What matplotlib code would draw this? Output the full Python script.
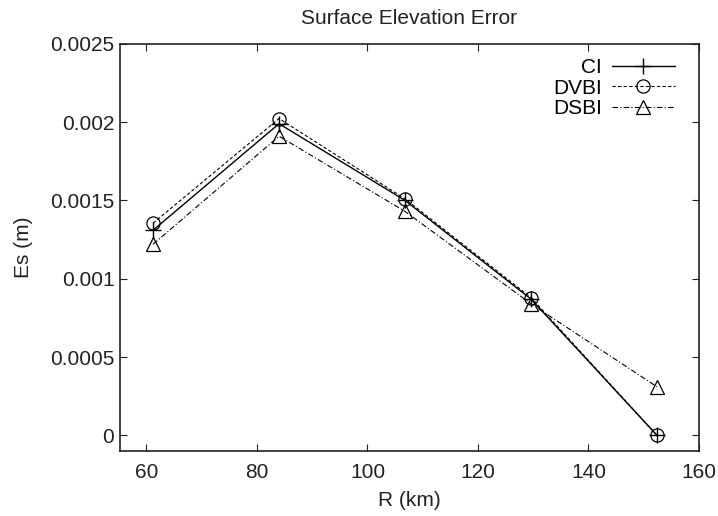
import numpy as np
import matplotlib
matplotlib.use("Agg")
import matplotlib.pyplot as plt

plt.rcParams["font.family"] = ["Liberation Sans", "DejaVu Sans"]

R = [61.2, 84.0, 106.8, 129.6, 152.4]
es_ci = [0.00131, 0.00199, 0.00150, 0.00087, 0.0]
es_dvbi = [0.001355, 0.002023, 0.00151, 0.00088, 0.0]
es_dsbi = [0.00122, 0.00191, 0.00143, 0.00084, 0.00031]
xticks = [60, 80, 100, 120, 140, 160]
yticks = [0, 0.0005, 0.001, 0.0015, 0.002, 0.0025]
ytick_labels = ["0", "0.0005", "0.001", "0.0015", "0.002", "0.0025"]


def make_graph():
    fig = plt.figure(figsize=(7.18, 5.16), dpi=100)
    ax = fig.add_axes([0.167, 0.126, 0.8065, 0.789])

    ax.plot(R, es_ci, color="black", lw=1.0, ls="-", marker="+", ms=11,
            mew=1.0, label="CI")
    ax.plot(R, es_dvbi, color="black", lw=0.8, ls=(0, (3, 2)), marker="o",
            ms=9.5, mfc="none", mew=0.9, label="DVBI")
    ax.plot(R, es_dsbi, color="black", lw=0.8, ls=(0, (5, 2, 1, 2)), marker="^",
            ms=9.5, mfc="none", mew=0.9, label="DSBI")

    ax.set_xlim(55.2, 160)
    ax.set_ylim(-0.0001, 0.0025)
    ax.set_xticks(xticks)
    ax.set_yticks(yticks)
    ax.set_yticklabels(ytick_labels)
    ax.tick_params(direction="in", top=True, right=True, length=5,
                   labelsize=15, colors="#222222")
    ax.tick_params(axis="x", pad=9)
    ax.tick_params(axis="y", pad=4)
    ax.set_xlabel("R (km)", fontsize=15, labelpad=6, color="#222222")
    ax.set_ylabel("Es (m)", fontsize=15, labelpad=12, color="#222222")
    ax.set_title("Surface Elevation Error", fontsize=15, pad=14.5,
                 color="#222222")
    for s in ax.spines.values():
        s.set_linewidth(1.2)
        s.set_color("#222222")

    ax.legend(loc="upper right", bbox_to_anchor=(0.983, 1.0), frameon=False,
              markerfirst=False, fontsize=15, handlelength=3.0,
              handletextpad=0.5, labelspacing=0.06, borderaxespad=0.3)
    return fig


if __name__ == "__main__":
    fig = make_graph()
    fig.savefig("out.png", dpi=100)
